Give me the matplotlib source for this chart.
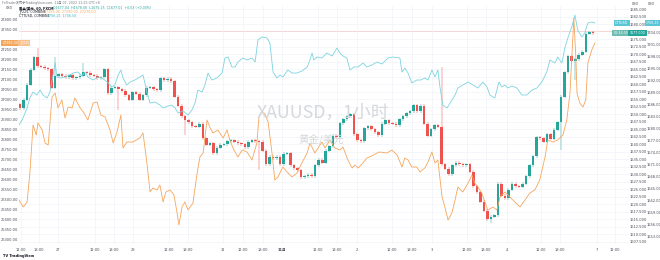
# XAUUSD 1小时 K线 + 两条叠加曲线 (TradingView 截图仿制)
import matplotlib
matplotlib.use("Agg")
import matplotlib.pyplot as plt
import matplotlib.transforms as mtransforms
from matplotlib.ticker import FormatStrFormatter

plt.rcParams['font.family'] = ['DejaVu Sans', 'Noto Sans CJK SC']

# ---- 数据 ----
first_open = 1653.3
closes = [
    1652.0, 1654.7, 1659.7, 1664.7, 1669.0, 1666.0, 1665.7, 1665.3, 1665.0, 1658.7,
    1662.7, 1663.3, 1662.7, 1662.3, 1663.0, 1662.0, 1662.3, 1662.7, 1664.0, 1663.7,
    1663.0, 1662.7, 1662.0, 1662.3, 1665.0, 1657.0, 1658.7, 1659.0, 1658.3, 1657.7,
    1656.3, 1654.7, 1657.3, 1656.7, 1654.7, 1656.3, 1658.7, 1659.0, 1658.3, 1658.0,
    1662.0,
    1661.3, 1661.7, 1661.0, 1655.7, 1652.7, 1649.3, 1648.0, 1647.3, 1646.0, 1645.7,
    1646.7, 1642.0, 1639.7, 1640.3, 1637.0, 1638.7, 1639.7, 1640.0, 1641.0, 1641.3,
    1640.7, 1640.3, 1640.0, 1639.0, 1640.7, 1641.3, 1641.0, 1640.7, 1637.7, 1633.3,
    1635.7, 1635.3, 1635.7, 1633.3, 1636.7, 1637.0, 1633.0, 1632.0, 1631.3, 1629.0,
    1629.3, 1629.7, 1629.3, 1633.0,
    1634.7, 1633.7, 1637.7, 1639.3, 1642.7, 1642.3, 1647.0, 1648.3, 1649.3, 1650.0,
    1643.3, 1641.3, 1641.0, 1645.3, 1646.0, 1645.0, 1644.0, 1643.0, 1646.7, 1648.0,
    1647.0, 1646.7, 1646.3, 1648.3, 1649.3, 1650.3, 1651.0, 1653.0, 1651.0, 1652.7,
    1646.7, 1642.7, 1645.0, 1646.3, 1645.7, 1633.3, 1631.7, 1630.0, 1633.0,
    1633.7, 1633.3, 1633.0, 1633.3, 1630.7, 1626.0, 1624.0, 1620.7, 1617.7, 1615.0,
    1615.7, 1616.3, 1626.7, 1622.7, 1622.0, 1624.7, 1626.7, 1626.0, 1625.7, 1626.7,
    1629.3, 1633.0, 1636.0, 1642.3, 1642.0, 1640.7, 1643.3, 1641.7, 1644.7, 1647.3,
    1655.7, 1664.0, 1669.3, 1667.7, 1668.3, 1669.7, 1670.7, 1676.7, 1677.3, 1677.0,
]
# 明显的长影线
long_highs = {5: 1672.0, 10: 1669.0, 18: 1667.0, 120: 1665.7}
long_lows = {28: 1651.3, 47: 1643.0, 68: 1631.3, 134: 1613.7, 154: 1638.0, 158: 1661.3}

# 青色曲线 (右外侧坐标)
cyan_x = [-0.3, 0.6, 2.0, 2.8, 3.7, 4.8, 5.7, 6.5, 7.7, 8.5, 9.4, 10.0, 10.5, 11.4, 12.8,
          14.2, 15.1, 16.5, 17.6, 18.5, 19.3, 20.8, 22.2, 23.3, 24.8, 26.2, 27.0, 27.9,
          28.7, 29.3, 30.4, 31.3, 32.7, 34.1, 35.0, 36.1, 37.0, 38.4, 39.8, 40.7, 42.1,
          43.2, 44.1, 45.0, 46.4, 47.8, 48.9, 49.8, 50.6, 51.8, 52.6, 53.5, 54.6, 56.0,
          57.5, 58.3, 59.2, 60.3, 61.2, 62.0, 63.4, 64.6, 66.0, 66.9, 67.7, 68.8, 70.3,
          71.1, 72.0, 73.1, 74.0, 74.8, 76.2, 77.4, 78.8, 80.2, 81.7, 82.5, 83.1, 83.6,
          84.5, 85.9, 87.3, 88.8, 90.2, 91.0, 91.9, 93.0, 93.9, 95.0, 96.2, 97.6, 98.7,
          100.1, 101.6, 103.0, 104.7, 106.1, 108.1, 108.7, 109.5, 110.4, 111.5, 112.9,
          114.1, 115.2, 116.1, 117.2, 118.1, 118.9, 119.5, 120.3, 121.5, 122.9, 123.8,
          124.6, 126.0, 127.5, 128.9, 130.3, 131.7, 132.9, 133.7, 135.1, 136.3, 137.1,
          138.0, 138.8, 140.0, 141.4, 142.8, 144.2, 145.7, 147.1, 148.5, 149.9, 150.8,
          152.2, 153.0, 154.2, 155.1, 155.9, 157.0, 157.9, 158.7, 159.9, 160.7, 161.6,
          162.7, 163.6]
cyan_val = [1680.75, 1682.0, 1685.0, 1687.5, 1689.0, 1688.25, 1689.5, 1688.25, 1687.5,
            1689.0, 1693.25, 1696.25, 1692.75, 1692.5, 1692.75, 1693.25, 1693.75, 1694.0,
            1693.0, 1694.0, 1692.75, 1692.0, 1692.75, 1692.5, 1691.5, 1690.25, 1690.75,
            1693.25, 1694.5, 1692.5, 1690.75, 1691.5, 1692.0, 1692.75, 1693.25, 1689.0,
            1686.25, 1686.5, 1685.75, 1685.0, 1685.5, 1685.75, 1685.0, 1683.75, 1684.25,
            1683.25, 1684.5, 1686.25, 1689.5, 1689.0, 1690.75, 1693.75, 1692.0, 1692.5,
            1693.75, 1697.5, 1697.75, 1695.25, 1695.25, 1696.5, 1697.5, 1697.0, 1697.5,
            1696.5, 1702.0, 1702.75, 1702.5, 1701.25, 1694.0, 1692.5, 1693.25, 1692.75,
            1694.5, 1693.75, 1693.75, 1694.25, 1695.25, 1697.0, 1698.75, 1697.0, 1697.75,
            1697.5, 1698.75, 1698.0, 1700.0, 1698.75, 1698.0, 1697.5, 1694.5, 1695.25,
            1695.25, 1696.25, 1695.25, 1695.75, 1696.5, 1696.0, 1697.5, 1697.75, 1697.5,
            1694.0, 1695.0, 1693.75, 1691.25, 1692.0, 1692.0, 1692.5, 1692.0, 1694.5,
            1692.75, 1694.5, 1690.25, 1685.75, 1685.0, 1687.0, 1688.25, 1690.0, 1690.75,
            1691.5, 1690.75, 1690.0, 1691.5, 1690.25, 1688.25, 1687.5, 1691.5, 1690.25,
            1690.75, 1690.0, 1690.5, 1690.0, 1688.25, 1688.25, 1689.5, 1690.0, 1691.5,
            1694.0, 1697.0, 1696.25, 1697.75, 1696.25, 1700.25, 1702.5, 1705.25, 1708.25,
            1704.5, 1702.75, 1703.75, 1706.25, 1706.5, 1706.25]

# 橙色曲线 (左侧坐标)
orange_x = [-0.3, 0.9, 2.0, 2.8, 3.7, 4.6, 5.1, 6.3, 7.1, 8.0, 9.1, 10.0, 10.8, 11.9, 12.8,
            13.7, 14.8, 15.6, 17.1, 18.2, 19.3, 20.8, 21.9, 23.0, 24.2, 25.6, 26.5, 27.6,
            28.7, 29.3, 30.4, 32.1, 34.1, 35.0, 36.1, 37.0, 37.8, 39.0, 39.8, 40.7, 41.5,
            42.7, 43.8, 44.7, 45.2, 46.1, 46.9, 47.8, 49.2, 50.4, 51.2, 52.1, 53.2, 54.1,
            54.9, 56.3, 57.8, 58.9, 59.7, 60.6, 62.0, 63.2, 64.6, 66.0, 67.4, 68.0, 68.8,
            69.7, 70.6, 71.7, 72.5, 73.4, 74.8, 76.0, 77.4, 78.8, 80.2, 81.7, 82.5, 83.9,
            84.8, 85.9, 86.8, 88.2, 89.6, 91.0, 91.9, 93.3, 94.5, 95.3, 96.2, 97.6, 98.7,
            100.1, 101.6, 102.4, 104.4, 105.8, 107.3, 108.7, 109.5, 110.4, 111.5, 112.9,
            113.8, 115.2, 116.1, 117.2, 118.1, 118.9, 120.1, 120.9, 121.8, 122.9, 123.8,
            124.6, 126.0, 127.5, 128.6, 129.4, 130.3, 131.4, 132.3, 133.1, 134.6, 135.7,
            136.6, 138.0, 139.4, 140.8, 142.3, 143.7, 145.1, 146.5, 147.9, 149.4, 150.2,
            151.6, 153.0, 154.5, 155.6, 156.5, 157.6, 158.2, 158.5, 159.3, 160.2, 161.0,
            161.6, 162.7, 163.6]
orange_val = [26500, 26465, 26490, 26635, 26875, 26825, 26885, 26850, 26785, 26775, 27015,
              27035, 26960, 27000, 26910, 26965, 26960, 27010, 26960, 26935, 26900, 26985,
              26990, 26925, 26915, 26850, 26785, 26840, 26925, 26760, 26790, 26790, 26810,
              26835, 26685, 26540, 26560, 26550, 26575, 26490, 26540, 26550, 26525, 26435,
              26375, 26465, 26490, 26450, 26485, 26635, 26715, 26735, 26900, 26860, 26835,
              26850, 26810, 26850, 26800, 26760, 26715, 26750, 26740, 26700, 26785, 26915,
              26940, 26930, 26890, 26735, 26600, 26615, 26665, 26640, 26615, 26635, 26685,
              26735, 26785, 26735, 26760, 26790, 26760, 26800, 26760, 26750, 26765, 26700,
              26660, 26675, 26660, 26685, 26710, 26720, 26735, 26740, 26735, 26750, 26725,
              26665, 26710, 26700, 26665, 26665, 26640, 26660, 26690, 26740, 26685, 26700,
              26515, 26465, 26400, 26435, 26500, 26565, 26540, 26585, 26625, 26585, 26565,
              26535, 26490, 26450, 26465, 26450, 26515, 26540, 26515, 26490, 26465, 26500,
              26535, 26550, 26600, 26715, 26800, 26790, 26800, 26825, 26900, 27035, 27410,
              27200, 27035, 26985, 26965, 27000, 27185, 27250, 27285]

# 时间轴 (以小时序号计)
tick_pos = [0.3, 5.4, 10.8, 21.3, 26.7, 32.1, 42.4, 47.8, 57.8, 63.4, 69.1, 74.5, 84.8,
            90.2, 95.9, 105.8, 111.5, 117.2, 127.2, 132.7, 138.6, 148.2, 153.6, 164.2, 169.3]
tick_labels = ["12:00", "18:00", "27", "12:00", "18:00", "28", "12:00", "18:00", "31",
               "12:00", "18:00", "11月", "12:00", "18:00", "2", "12:00", "18:00", "3",
               "12:00", "18:00", "4", "12:00", "18:00", "7", "12:00"]

# 三条价格轴的刻度 (标签底下被价格标签占住的刻度不显示)
left_ticks = [v for v in range(26300, 27450, 50) if abs(v - orange_val[-1]) > 25]
inner_ticks = [1607.5 + 2.5 * k for k in range(32)]
inner_ticks = [v for v in inner_ticks if abs(v - closes[-1]) > 1.5]
outer_ticks = [1653.0 + 3 * k for k in range(19)]
outer_ticks = [v for v in outer_ticks if abs(v - cyan_val[-1]) > 1.5]

UP = "#26a69a"
DOWN = "#ef5350"
CYAN = "#7dd3e0"
ORANGE = "#f5a65b"
AXIS_TXT = "#4a4e59"
FS = 2.6

fig = plt.figure(figsize=(6.6, 2.6), dpi=100)
fig.patch.set_facecolor("white")
W, H = 660, 260
ax = fig.add_axes([19 / W, 1 - 244 / H, 610 / W, 238 / H])

# ---- K线 ----
opens = [first_open] + closes[:-1]
idx = list(range(len(closes)))
cols = [UP if c >= o else DOWN for o, c in zip(opens, closes)]
bottoms = [min(o, c) for o, c in zip(opens, closes)]
heights = [max(abs(c - o), 0.3) for o, c in zip(opens, closes)]
his = [long_highs.get(i, max(o, c) + 0.5) for i, (o, c) in enumerate(zip(opens, closes))]
los = [long_lows.get(i, min(o, c) - 0.5) for i, (o, c) in enumerate(zip(opens, closes))]
ax.vlines(idx, los, his, colors=cols, linewidth=0.35, zorder=2)
ax.bar(idx, heights, bottom=bottoms, width=0.72, color=cols, linewidth=0, zorder=3)

ax.set_xlim(-0.3, 173.3)
ax.set_ylim(1606.67, 1686.0)
ax.axhline(closes[-1] + 0.7, color="#f2c4c4", linewidth=0.5, zorder=1)

ax.set_xticks(tick_pos)
ax.set_xticklabels(tick_labels)
for lab in ax.get_xticklabels():
    if lab.get_text() == "11月":
        lab.set_fontweight("bold")
ax.tick_params(axis="x", length=0, pad=2.6, labelsize=FS, labelcolor=AXIS_TXT)
ax.grid(True, color="#f1f3f7", linewidth=0.5, zorder=0)

# ---- 橙色 (左轴) ----
ax_o = ax.twinx()
ax_o.plot(orange_x, orange_val, color=ORANGE, linewidth=0.6)
ax_o.set_ylim(26280, 27470)
ax_o.yaxis.tick_left()
ax_o.set_yticks(left_ticks)
ax_o.yaxis.set_major_formatter(FormatStrFormatter("%.2f"))
ax_o.tick_params(axis="y", length=0, pad=0.8, labelsize=FS, labelcolor=AXIS_TXT)

# ---- 青色 (右外轴) ----
ax_c = ax.twinx()
ax_c.plot(cyan_x, cyan_val, color=CYAN, linewidth=0.6)
ax_c.set_ylim(1651.0, 1710.5)
ax_c.spines["right"].set_position(("outward", 12))
ax_c.set_yticks(outer_ticks)
ax_c.yaxis.set_major_formatter(FormatStrFormatter("%.2f"))
ax_c.tick_params(axis="y", length=0, pad=0.5, labelsize=FS, labelcolor=AXIS_TXT)

# K线价格轴放在右内侧 (twinx 之后再设)
ax.yaxis.tick_right()
ax.set_yticks(inner_ticks)
ax.yaxis.set_major_formatter(FormatStrFormatter("%.3f"))
ax.tick_params(axis="y", length=0, pad=0.8, labelsize=FS, labelcolor=AXIS_TXT,
               labelleft=False, labelright=True)
ax.set_ylim(1606.67, 1686.0)

for a in (ax, ax_o, ax_c):
    for s in a.spines.values():
        s.set_visible(False)

# ---- 价格标签 ----
def tag(axis, xfrac, yval, txt, color, ha):
    tr = mtransforms.blended_transform_factory(axis.transAxes, axis.transData)
    axis.text(xfrac, yval, txt, transform=tr, ha=ha, va="center", fontsize=2.3,
              color="white", clip_on=False, zorder=10,
              bbox=dict(boxstyle="square,pad=0.45", fc=color, ec="none"))

tag(ax_o, -0.001, orange_val[-1], "%.2f" % orange_val[-1], ORANGE, "right")
tag(ax_o, 0.001, orange_val[-1], "JP225", "#f8c28f", "left")
tag(ax_c, 0.999, cyan_val[-1], "CTTUSD", "#5cc6d6", "right")
tag(ax_c, 1.028, cyan_val[-1], "%.2f" % cyan_val[-1], "#5cc6d6", "left")
tag(ax, 0.999, closes[-1], "00:34:50", "#6fbcb3", "right")
tag(ax, 1.001, closes[-1], "%.3f" % closes[-1], UP, "left")

# ---- 顶部文字 ----
fig.text(2 / W, 1 - 3 / H, "FxTrader发布于TradingView.com, 11月 07, 2022 11:25 UTC+8",
         fontsize=2.3, color="#787b86", va="center")
fig.text(19 / W, 1 - 8 / H, "黄金/美元, 60, FXCM", fontsize=2.4, color="#131722",
         va="center", fontweight="bold")
fig.text(53 / W, 1 - 8 / H,
         "O1677.04  H1678.06  L1676.25  C1677.01  +0.03 (+0.00%)",
         fontsize=2.3, color=UP, va="center")
fig.text(19 / W, 1 - 12 / H, "JP225, COMBINE", fontsize=2.3, color="#131722", va="center")
fig.text(44 / W, 1 - 12 / H, "27285.00  27290.00  27270.00", fontsize=2.3, color=ORANGE,
         va="center")
fig.text(19 / W, 1 - 16 / H, "CTTUSD, COMBINE", fontsize=2.3, color="#131722", va="center")
fig.text(47 / W, 1 - 16 / H, "1706.25  1706.50", fontsize=2.3, color="#3bb3c6", va="center")
fig.text(6 / W, 1 - 8 / H, "USD", fontsize=2.3, color=AXIS_TXT, va="center")
fig.text(632 / W, 1 - 4 / H, "USD", fontsize=2.3, color=AXIS_TXT, va="center")
fig.text(648 / W, 1 - 4 / H, "USD", fontsize=2.3, color=AXIS_TXT, va="center")

# ---- 水印 ----
fig.text(323 / W, 1 - 113 / H, "XAUUSD，1小时", fontsize=12.8, color="#d6d8dd",
         ha="center", va="center", family=['Noto Sans CJK SC', 'DejaVu Sans'], zorder=0)
fig.text(321 / W, 1 - 139 / H, "黄金/美元", fontsize=7.5, color="#d6d8dd",
         ha="center", va="center", family=['Noto Sans CJK SC', 'DejaVu Sans'], zorder=0)

# ---- 底部 ----
fig.text(3 / W, 1 - 256 / H, "TV TradingView", fontsize=2.6, color="#131722",
         fontweight="bold", va="center")

fig.savefig("out.png", dpi=100, facecolor="white")
